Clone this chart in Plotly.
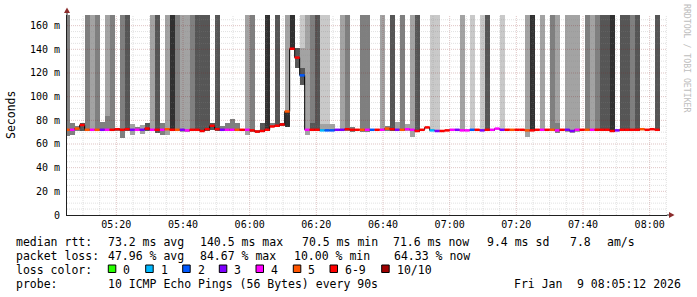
import numpy as np
import pandas as pd
import plotly.graph_objects as go

# ---------------- data ----------------
step_start = "2026-01-09 05:04:30"   # start of first (partly visible) 90 s step
step_seconds = 90
view_start = "2026-01-09 05:05:12"
view_end = "2026-01-09 08:05:12"

F = 200  # smoke that runs above the top of the chart
median_ms = [72, 72, 73, 76, 72, 72, 72, 72, 72, 72,
             72.5, 72, 72.5, 72, 72, 72, 73, 72, 72, 72,
             72.5, 72, 72, 72, 71.5, 72, 72, 71, 72.5, 75.4,
             72.5, 72, 72, 72, 72, 72, 72, 71.5, 70.5, 71,
             72, 74.8, 75.4, 76.5, 87.5, 140.5, 133, 118, 72, 72,
             72, 71.5, 71.5, 71.5, 72, 72, 72.5, 72, 72, 72,
             72, 72, 72, 72, 73, 72.5, 72, 72, 72.5, 72,
             71, 72, 74, 71.5, 71, 71, 71.5, 72, 72, 71.5,
             71.5, 72, 72, 71.5, 72, 72, 73, 72, 72, 72,
             72, 72, 71.5, 71.5, 72, 72, 72, 72, 71.5, 72,
             72, 71, 72, 72, 72, 72, 72, 72, 72, 71,
             71.5, 72, 72, 72, 72, 72.5, 72, 72.5, 72]
loss_count = [5, 4, 5, 7, 5, 4, 5, 3, 4, 6,
              7, 7, 6, 3, 4, 3, 7, 4, 6, 4,
              5, 7, 5, 3, 4, 6, 7, 7, 6, 7,
              7, 3, 4, 4, 5, 6, 4, 7, 7, 6,
              7, 7, 6, 7, 5, 7, 7, 2, 4, 7,
              7, 1, 2, 2, 3, 3, 7, 6, 7, 5,
              4, 2, 7, 4, 5, 7, 3, 5, 4, 4,
              7, 7, 6, 1, 3, 7, 7, 4, 3, 4,
              4, 2, 7, 3, 7, 4, 4, 3, 7, 5,
              6, 7, 5, 7, 7, 4, 7, 5, 4, 6,
              3, 3, 4, 7, 5, 4, 7, 7, 6, 7,
              3, 7, 6, 7, 7, 5, 7, 6, 7]
smoke_lo = [67, 67.5, 71, 71, 71, 71, 71, 71, 71, 71,
            71, 65, 71, 68, 71, 68.5, 71, 71, 69, 68,
            68, 71, 71, 70, 70, 71, 71, 71, 71, 72,
            71, 71, 71, 71, 71, 71, 68, 70, 69, 70.5,
            71, 74, 74, 75, 74, 140, 124, 110, 68, 71,
            71, 71, 71, 71, 71, 71, 71, 70, None, 70,
            70, None, None, 71, 71, 71, 71, 71, 71, 66,
            70, None, None, 71, 71, None, None, None, None, 71,
            None, 71, None, 71, 71, 71, None, 71, None, None,
            None, None, 66, 71, None, 71, None, 71, 69, None,
            70, 69, 70, None, 71, 71, 71, 71, 71, 70.5,
            None, 71, 71, 71, 71, None, None, None, 71]
smoke_hi = [F, 78, 75, 77.5, F, F, F, 79, F, F,
            73.5, F, F, 77, 74, 76, 77.5, F, F, 77.5,
            F, F, F, F, F, F, F, F, F, 77.5,
            F, 75, 77.5, 81, 77.5, 73, F, F, 72, 78,
            F, 78, F, 78, F, F, 141, F, F, F,
            F, F, F, 77, 73, F, F, 74, None, F,
            F, None, None, F, 75.5, F, 79, F, 77, F,
            F, None, None, F, F, None, None, None, None, F,
            None, F, None, F, F, 73, None, F, None, None,
            None, None, F, F, None, F, None, F, F, None,
            F, F, F, None, F, F, F, F, F, F,
            None, F, F, F, F, None, None, None, F]
smoke_shade = [2, 2, 2, 3, 2, 1, 2, 2, 1, 2,
               2, 2, 3, 1, 2, 1, 3, 1, 3, 2,
               1, 4, 2, 1, 1, 2, 3, 3, 3, 3,
               3, 2, 2, 2, 2, 2, 1, 2, 2, 3,
               4, 2, 3, 3, 1, 4, 3, 0, 1, 2,
               3, 0, 0, 1, 2, 1, 2, 2, None, 2,
               2, None, None, 1, 2, 3, 1, 2, 1, 1,
               3, None, None, 0, 0, None, None, None, None, 1,
               None, 0, None, 0, 3, 3, None, 0, None, None,
               None, None, 1, 4, None, 1, None, 2, 1, None,
               1, 1, 1, None, 2, 1, 2, 3, 3, 4,
               None, 3, 3, 2, 3, None, None, None, 3]
# inner smoke layers (drawn over the outer smoke)
inner_step = [8, 44, 47, 47, 49, 51, 52, 98]
inner_lo = [71, 74, 110, 110, 71, 71, 71, 69]
inner_hi = [84, 87, 141, 124, 78, 77, 77, 78]
inner_shade = [2, 4, 1, 3, 3, 1, 1, 2]

grey_levels = ["#c9c9c9", "#a3a3a3", "#7f7f7f", "#565656", "#313131"]
loss_labels = ["0", "1", "2", "3", "4", "5", "6-9", "10/10"]
loss_colors = ["#26ff00", "#00b8ff", "#0059ff", "#7e00ff", "#ff00ff", "#ff5500", "#ff0000", "#a00000"]

y_ticks = [0, 20, 40, 60, 80, 100, 120, 140, 160]
y_ticktext = ["0", "20 m", "40 m", "60 m", "80 m", "100 m", "120 m", "140 m", "160 m"]

# legend lines: items of each (justified) line
rtt_items = ["median rtt:", "73.2 ms avg", "140.5 ms max", "70.5 ms min", "71.6 ms now", "9.4 ms sd", "7.8", "am/s"]
loss_items = ["packet loss:", "47.96 % avg", "84.67 % max", "10.00 % min", "64.33 % now"]
color_title = "loss color:"
probe_items = ["probe:", "10 ICMP Echo Pings (56 Bytes) every 90s", "Fri Jan", "9 08:05:12 2026"]
side_text = "RRDTOOL / TOBI OETIKER"

# ---------------- figure geometry ----------------
W, H = 697, 297
L, R, T, B = 67, 30, 15, 82
PW, PH = W - L - R, H - T - B


def px(xp):
    return (xp - L) / PW


def py(yp):
    return (H - B - yp) / PH


# pixel positions of legend items (layout)
rtt_x = [16, 107.3, 200, 301.7, 393, 486.7, 570, 606.7]
loss_x = [16, 107.3, 200, 293.3, 393.3]
probe_x = [16, 107.3, 513.3, 576.7]
box_x = [108.3, 145.7, 182.7, 219.3, 256, 293.3, 330, 381.7]
row_y = [241.5, 255.5, 269.5, 283.5]

n = len(median_ms)
t0 = pd.Timestamp(step_start)
dt = pd.Timedelta(seconds=step_seconds)
starts = [t0 + k * dt for k in range(n)]
centers = [s + dt / 2 for s in starts]
width_ms = step_seconds * 1000

fig = go.Figure()

# outer smoke
xs, base, hgt, cols = [], [], [], []
for k in range(n):
    if smoke_lo[k] is None:
        continue
    xs.append(centers[k]); base.append(smoke_lo[k])
    hgt.append(smoke_hi[k] - smoke_lo[k]); cols.append(grey_levels[smoke_shade[k]])
fig.add_trace(go.Bar(x=xs, y=hgt, base=base, width=width_ms, marker=dict(color=cols, line=dict(width=0)),
                     hoverinfo="skip"))
# inner smoke
fig.add_trace(go.Bar(x=[centers[k] for k in inner_step],
                     y=[h - l for h, l in zip(inner_hi, inner_lo)], base=inner_lo, width=width_ms,
                     marker=dict(color=[grey_levels[s] for s in inner_shade], line=dict(width=0)),
                     hoverinfo="skip"))

# grid drawn above the smoke (as rrdtool does)
minor_col = "rgba(140,140,140,0.25)"
major_col = "rgba(130,30,30,0.26)"
xa, xb = pd.Timestamp(view_start), pd.Timestamp(view_end)
minor_x = pd.date_range("2026-01-09 05:10", xb, freq="5min")
major_x = [t for t in minor_x if t.minute % 20 == 0]
minor_x = [t for t in minor_x if t.minute % 20 != 0]
minor_y = [v for v in range(5, 169, 5) if v % 20 != 0]
major_y = [v for v in y_ticks if v > 0]


def vlines(ts):
    x, y = [], []
    for t in ts:
        x += [t, t, None]; y += [0, 169, None]
    return x, y


def hlines(vs):
    x, y = [], []
    for v in vs:
        x += [xa, xb, None]; y += [v, v, None]
    return x, y


for (gx, gy), c in [(vlines(minor_x), minor_col), (hlines(minor_y), minor_col),
                     (vlines(major_x), major_col), (hlines(major_y), major_col)]:
    fig.add_trace(go.Scatter(x=gx, y=gy, mode="lines", line=dict(color=c, width=1, dash="1px,1px"),
                             hoverinfo="skip"))

# median: black step line plus coloured loss segments
fig.add_trace(go.Scatter(x=starts + [starts[-1] + dt], y=median_ms + [median_ms[-1]], mode="lines",
                         line=dict(color="black", width=1, shape="hv"), hoverinfo="skip"))


def bucket(c):
    return c if c <= 5 else (6 if c < 10 else 7)


for b, col in enumerate(loss_colors):
    x, y = [], []
    for k in range(n):
        if bucket(loss_count[k]) == b:
            x += [starts[k], starts[k] + dt, None]; y += [median_ms[k], median_ms[k], None]
    if x:
        fig.add_trace(go.Scatter(x=x, y=y, mode="lines", line=dict(color=col, width=2.5), hoverinfo="skip"))

mono = "DejaVu Sans Mono, Liberation Mono, monospace"
fs = 11.5
ann = []


def label(xp, yp, txt, **kw):
    d = dict(x=px(xp - 0.7), y=py(yp), xref="paper", yref="paper", text=txt, showarrow=False,
             xanchor="left", yanchor="middle", borderpad=0, font=dict(family=mono, size=fs, color="black"))
    d.update(kw)
    ann.append(d)


for items, xs_, yy in [(rtt_items, rtt_x, row_y[0]), (loss_items, loss_x, row_y[1]),
                       (probe_items, probe_x, row_y[3])]:
    for t, xp in zip(items, xs_):
        label(xp, yy, t)
label(16, row_y[2], color_title)

ann.append(dict(x=px(11), y=py(115), xref="paper", yref="paper", text="Seconds", textangle=-90,
                showarrow=False, xanchor="center", yanchor="middle", font=dict(family=mono, size=fs, color="black")))
ann.append(dict(x=px(687.5), y=py(58.5), xref="paper", yref="paper", text=side_text,
                textangle=90, showarrow=False, xanchor="center", yanchor="middle",
                font=dict(family=mono, size=8.2, color="#bdbdbd")))

shapes = []
for bx, col, lab in zip(box_x, loss_colors, loss_labels):
    shapes.append(dict(type="rect", xref="paper", yref="paper", x0=px(bx), x1=px(bx + 7.5),
                       y0=py(272.5), y1=py(265), fillcolor=col, line=dict(color="black", width=1)))
    label(bx + 14.5, row_y[2], lab)

arrow_col = "#8b2c2c"
shapes.append(dict(type="path", xref="paper", yref="paper",
                   path=f"M {px(64)} {py(13)} L {px(70)} {py(13)} L {px(67)} {py(7.5)} Z",
                   fillcolor=arrow_col, line=dict(width=0)))
shapes.append(dict(type="line", xref="paper", yref="paper", x0=px(67), x1=px(67), y0=py(15), y1=py(13),
                   line=dict(color="#202020", width=1)))
shapes.append(dict(type="path", xref="paper", yref="paper",
                   path=f"M {px(669)} {py(212)} L {px(669)} {py(218)} L {px(674.5)} {py(215)} Z",
                   fillcolor=arrow_col, line=dict(width=0)))
shapes.append(dict(type="line", xref="paper", yref="paper", x0=px(667), x1=px(669), y0=py(215), y1=py(215),
                   line=dict(color="#202020", width=1)))

fig.update_layout(
    width=W, height=H, margin=dict(l=L, r=R, t=T, b=B, pad=0),
    paper_bgcolor="white", plot_bgcolor="white",
    barmode="overlay", bargap=0, showlegend=False,
    font=dict(family=mono, size=10, color="black"),
    annotations=ann, shapes=shapes,
    xaxis=dict(type="date", range=[xa, xb], showgrid=False, zeroline=False, showline=True,
               linecolor="#202020", linewidth=1, tickformat="%H:%M", dtick=20 * 60 * 1000,
               tick0="2026-01-09 05:20:00", ticks="", tickfont=dict(family=mono, size=10)),
    yaxis=dict(range=[0, 169], tickvals=y_ticks, ticktext=y_ticktext, showgrid=False, zeroline=False,
               showline=True, linecolor="#202020", linewidth=1, ticks="", ticklabelstandoff=4,
               tickfont=dict(family=mono, size=10)),
)

fig.write_html("out.html")
